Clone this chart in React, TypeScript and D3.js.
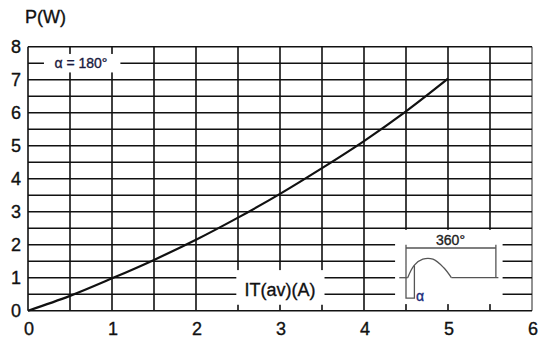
import { useEffect, useRef } from "react";
import * as d3 from "d3";

// IT(av) [A] vs P [W], α = 180°
const CURRENT = [0, 0.5, 1, 1.5, 2, 2.5, 3, 3.5, 4, 4.5, 5];
const POWER = [0, 0.45, 0.98, 1.54, 2.15, 2.82, 3.54, 4.32, 5.14, 6.04, 7.03];
const X_TICKS = [0, 1, 2, 3, 4, 5, 6];
const Y_TICKS = [0, 1, 2, 3, 4, 5, 6, 7, 8];

const W = 538;
const H = 342;
const FONT = "'Liberation Sans', Arial, sans-serif";

export default function App() {
  const svgRef = useRef<SVGSVGElement>(null);

  useEffect(() => {
    if (!svgRef.current) return;
    const svg = d3.select(svgRef.current);
    svg.selectAll("*").remove();

    const x = d3.scaleLinear().domain([0, 6]).range([28, 532]);
    const y = d3.scaleLinear().domain([0, 8]).range([310.7, 46.7]);

    // grid (every 0.5)
    const g = svg.append("g");
    d3.range(0, 6.01, 0.5).forEach((v) => {
      g.append("line")
        .attr("x1", x(v)).attr("x2", x(v))
        .attr("y1", y(0)).attr("y2", y(8))
        .attr("stroke", v === 6 ? "#777" : "#111").attr("stroke-width", 1.6);
    });
    d3.range(0, 8.01, 0.5).forEach((v) => {
      g.append("line")
        .attr("x1", x(0)).attr("x2", x(6))
        .attr("y1", y(v)).attr("y2", y(v))
        .attr("stroke", "#111").attr("stroke-width", 1.6);
    });

    // white boxes that cut the grid
    const box = (x0: number, x1: number, y0: number, y1: number) =>
      svg.append("rect")
        .attr("x", x(x0)).attr("y", y(y0))
        .attr("width", x(x1) - x(x0)).attr("height", y(y1) - y(y0))
        .attr("fill", "#fff");

    // curve
    const line = d3.line<number>()
      .x((_, i) => x(CURRENT[i]))
      .y((d) => y(d))
      .curve(d3.curveMonotoneX);
    svg.append("path")
      .attr("d", line(POWER) as string)
      .attr("fill", "none").attr("stroke", "#111").attr("stroke-width", 2.2);

    const label = (sel: d3.Selection<SVGTextElement, unknown, null, undefined>, color: string) =>
      sel.attr("font-family", FONT).attr("fill", color)
        .attr("stroke", color).attr("stroke-width", 0.35);

    // α label
    box(0.19, 1.1, 7.78, 7.22);
    label(svg.append("text"), "#1a1a40")
      .attr("x", x(0.63)).attr("y", y(7.5))
      .attr("text-anchor", "middle").attr("dominant-baseline", "central")
      .attr("font-size", 14)
      .text("α = 180°");

    // axis title on x
    box(2.48, 3.53, 1.23, 0.18);
    label(svg.append("text"), "#111")
      .attr("x", x(3.0)).attr("y", y(0.62))
      .attr("text-anchor", "middle").attr("dominant-baseline", "central")
      .attr("font-size", 18)
      .text("IT(av)(A)");

    // inset waveform
    box(4.37, 5.65, 2.45, 0.2);
    const ink = "#555";
    const seg = (a: [number, number][]) =>
      svg.append("path")
        .attr("d", d3.line<[number, number]>().x((d) => x(d[0])).y((d) => y(d[1]))(a) as string)
        .attr("fill", "none").attr("stroke", ink).attr("stroke-width", 1.3);
    seg([[4.5, 2.0], [4.5, 0.38], [4.6, 0.38], [4.6, 1.38]]);
    seg([[5.57, 2.0], [5.57, 1.0]]);
    seg([[4.5, 1.9], [5.57, 1.9]]);
    seg([[4.42, 1.0], [4.52, 1.0]]);
    svg.append("path")
      .attr("d", d3.line<[number, number]>()
        .x((d) => x(d[0])).y((d) => y(d[1]))
        .curve(d3.curveCatmullRom)([
          [4.52, 1.0], [4.6, 1.38], [4.7, 1.56], [4.82, 1.56], [4.95, 1.3], [5.04, 1.0],
        ]) as string)
      .attr("fill", "none").attr("stroke", ink).attr("stroke-width", 1.3);
    seg([[5.04, 1.0], [5.6, 1.0]]);
    label(svg.append("text"), "#222")
      .attr("x", x(5.03)).attr("y", y(2.13))
      .attr("text-anchor", "middle").attr("dominant-baseline", "central")
      .attr("font-size", 14)
      .text("360°");
    label(svg.append("text"), "#1a2a7a")
      .attr("x", x(4.62)).attr("y", y(0.45))
      .attr("dominant-baseline", "central")
      .attr("font-size", 14)
      .text("α");

    // tick labels
    Y_TICKS.forEach((v) => {
      label(svg.append("text"), "#111")
        .attr("x", 21).attr("y", y(v))
        .attr("text-anchor", "end").attr("dominant-baseline", "central")
        .attr("font-size", 18)
        .text(v);
    });
    X_TICKS.forEach((v) => {
      label(svg.append("text"), "#111")
        .attr("x", x(v) + 1).attr("y", 329)
        .attr("text-anchor", "middle").attr("dominant-baseline", "central")
        .attr("font-size", 18)
        .text(v);
    });

    label(svg.append("text"), "#111")
      .attr("x", 25).attr("y", 23)
      .attr("font-size", 18)
      .text("P(W)");
  }, []);

  return (
    <svg
      ref={svgRef}
      width={W}
      height={H}
      viewBox={`0 0 ${W} ${H}`}
      style={{ position: "absolute", left: 0, top: 0, background: "#fff" }}
    />
  );
}
